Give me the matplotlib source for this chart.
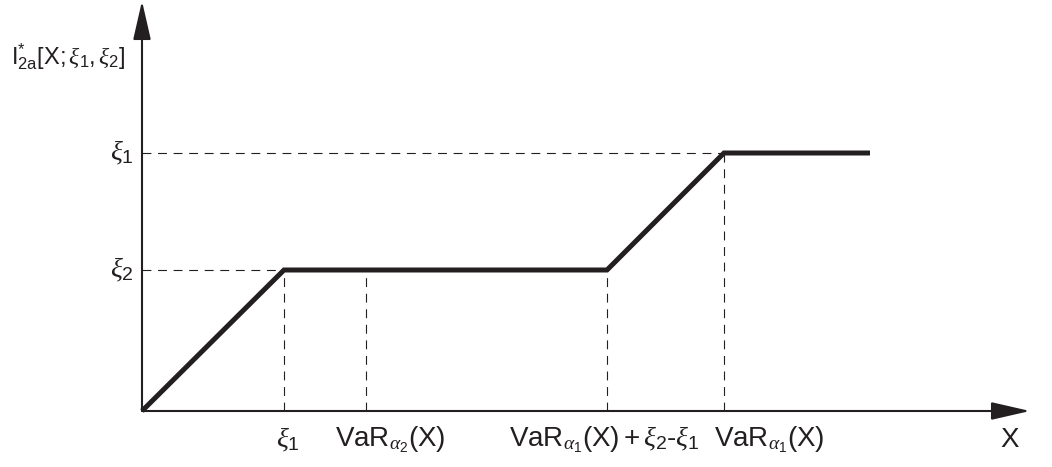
import matplotlib
matplotlib.use("Agg")
import matplotlib.pyplot as plt

plt.rcParams['font.family'] = ['Liberation Sans', 'DejaVu Sans']
plt.rcParams['mathtext.fontset'] = 'custom'
plt.rcParams['mathtext.rm'] = 'Liberation Sans'
plt.rcParams['mathtext.it'] = 'Liberation Serif:italic'
plt.rcParams['mathtext.bf'] = 'Liberation Sans:bold'

# break points of the indemnity function (x positions on the loss axis)
x_xi1 = 142          # xi_1
x_var2 = 224         # VaR_alpha2(X)
x_shift = 465        # VaR_alpha1(X) + xi_2 - xi_1
x_var1 = 582         # VaR_alpha1(X)
x_end = 728

# levels on the vertical axis
y_xi2 = 141
y_xi1 = 258

curve_x = [0, x_xi1, x_shift, x_var1, x_end]
curve_y = [0, y_xi2, y_xi2, y_xi1, y_xi1]

ink = '#231f20'

fig = plt.figure(figsize=(10.52, 4.67), dpi=100)
ax = fig.add_axes([0, 0, 1, 1])
ax.set_xlim(-142, 910)
ax.set_ylim(-56, 411)
ax.axis('off')

# axes with arrow heads
arrow = dict(arrowstyle='-|>,head_length=2.4,head_width=0.55', mutation_scale=10,
             lw=1.5, color=ink, shrinkA=0, shrinkB=0)
ax.annotate('', xy=(0, 410), xytext=(0, 0), arrowprops=arrow)
ax.annotate('', xy=(888, 0), xytext=(0, 0), arrowprops=arrow)

# guide lines
dash = dict(color=ink, lw=0.8, dashes=(8, 6))
ax.plot([0, x_var1], [y_xi1, y_xi1], **dash)
ax.plot([0, x_xi1], [y_xi2, y_xi2], **dash)
for xv, top in [(x_xi1, y_xi2), (x_var2, y_xi2), (x_shift, y_xi2), (x_var1, y_xi1)]:
    ax.plot([xv, xv], [0, top], **dash)

# indemnity function
ax.plot(curve_x, curve_y, color=ink, lw=3.6, solid_joinstyle='miter', solid_capstyle='butt')

fs = 20
# y labels
ax.text(-8, y_xi1, r'$\xi_1$', ha='right', va='center', fontsize=fs, color=ink)
ax.text(-8, y_xi2, r'$\xi_2$', ha='right', va='center', fontsize=fs, color=ink)
ax.text(-131, 354, r'$\mathrm{I}^{*}_{\mathrm{2a}}[\mathrm{X};\xi_1,\xi_2]$',
        ha='left', va='center', fontsize=17, color=ink)

# x labels
ly = -29
ax.text(x_xi1 + 4, ly, r'$\xi_1$', ha='center', va='center', fontsize=fs, color=ink)
ax.text(x_var2 + 24, ly, r'$\mathrm{VaR}_{\alpha_2}(\mathrm{X})$',
        ha='center', va='center', fontsize=fs, color=ink)
ax.text(x_shift - 3, ly, r'$\mathrm{VaR}_{\alpha_1}(\mathrm{X})+\xi_2$-$\xi_1$',
        ha='center', va='center', fontsize=fs, color=ink)
ax.text(x_var1 + 45, ly, r'$\mathrm{VaR}_{\alpha_1}(\mathrm{X})$',
        ha='center', va='center', fontsize=fs, color=ink)
ax.text(868, ly, 'X', ha='center', va='center', fontsize=fs, color=ink)

fig.savefig('out.png', dpi=100)
